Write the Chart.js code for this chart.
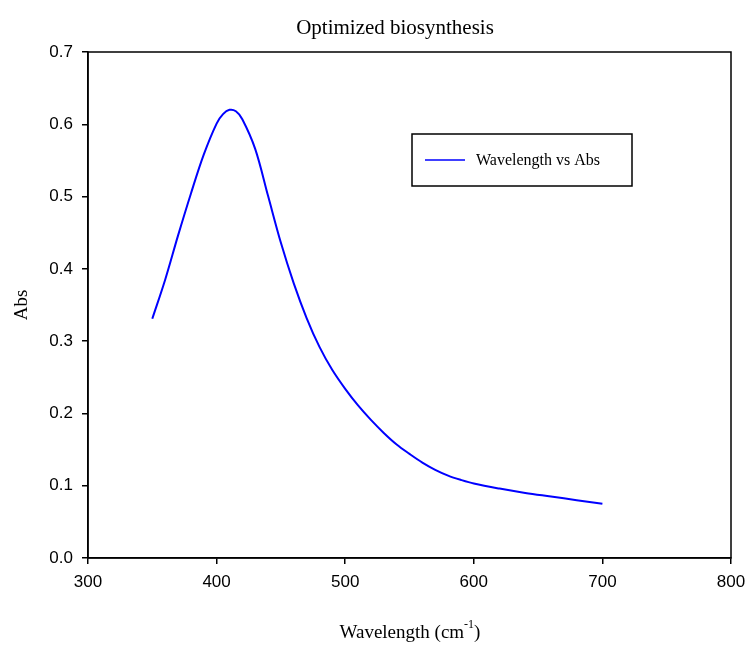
<!DOCTYPE html>
<html>
<head>
<meta charset="utf-8">
<script src="https://cdn.jsdelivr.net/npm/chart.js@4.4.1/dist/chart.umd.min.js"></script>
<style>
    html, body { margin: 0; padding: 0; background: #fff; }
    #wrap { width: 748px; height: 646px; }
</style>
</head>
<body>
<div id="wrap"><canvas id="absChart" width="748" height="646"></canvas></div>
<script>
// Données
const wavelengths = [350, 360, 370, 380, 390, 400, 405, 410, 415, 420, 430, 440, 450, 460, 470, 480, 490, 500, 510, 520, 530, 540, 550, 560, 570, 580, 590, 600, 620, 640, 660, 680, 700];
const absValues = [0.331, 0.385, 0.446, 0.504, 0.558, 0.601, 0.614, 0.620, 0.618, 0.607, 0.566, 0.501, 0.436, 0.380, 0.332, 0.292, 0.260, 0.234, 0.211, 0.191, 0.173, 0.157, 0.144, 0.132, 0.122, 0.114, 0.108, 0.103, 0.096, 0.090, 0.085, 0.080, 0.075];
const xTicks = [300, 400, 500, 600, 700, 800];
const yTicks = [0.0, 0.1, 0.2, 0.3, 0.4, 0.5, 0.6, 0.7];

const serif = '"Liberation Serif", "Times New Roman", serif';
const narrow = '"Liberation Sans Narrow", "Liberation Sans", Arial, sans-serif';

// Cadre, titres et légende dessinés à la main
const decorPlugin = {
    id: 'decor',
    afterDraw(chart) {
        const ctx = chart.ctx;
        const a = chart.chartArea;
        ctx.save();
        ctx.strokeStyle = '#000';
        ctx.lineWidth = 1.5;
        ctx.strokeRect(a.left, a.top, a.right - a.left, a.bottom - a.top);

        ctx.fillStyle = '#000';
        ctx.textBaseline = 'alphabetic';
        ctx.textAlign = 'center';
        ctx.font = '21px ' + serif;
        ctx.fillText('Optimized biosynthesis', 395, 34);

        // Titre axe Y
        ctx.save();
        ctx.translate(27, 305);
        ctx.rotate(-Math.PI / 2);
        ctx.font = '19px ' + serif;
        ctx.fillText('Abs', 0, 0);
        ctx.restore();

        // Titre axe X avec exposant
        const t1 = 'Wavelength (cm';
        const sup = '-1';
        const t2 = ')';
        ctx.font = '19px ' + serif;
        const w1 = ctx.measureText(t1).width;
        const w3 = ctx.measureText(t2).width;
        ctx.font = '12px ' + serif;
        const w2 = ctx.measureText(sup).width;
        let x = 410 - (w1 + w2 + w3) / 2;
        ctx.textAlign = 'left';
        ctx.font = '19px ' + serif;
        ctx.fillText(t1, x, 638);
        ctx.font = '12px ' + serif;
        ctx.fillText(sup, x + w1, 628);
        ctx.font = '19px ' + serif;
        ctx.fillText(t2, x + w1 + w2, 638);

        // Légende
        ctx.lineWidth = 1.5;
        ctx.strokeRect(412, 134, 220, 52);
        ctx.strokeStyle = '#0000ff';
        ctx.beginPath();
        ctx.moveTo(425, 160);
        ctx.lineTo(465, 160);
        ctx.stroke();
        ctx.font = '16px ' + serif;
        ctx.textBaseline = 'middle';
        ctx.fillText('Wavelength vs Abs', 476, 161);
        ctx.restore();
    }
};

const absCtx = document.getElementById('absChart').getContext('2d');
const absChart = new Chart(absCtx, {
    type: 'line',
    data: {
        datasets: [{
            label: 'Wavelength vs Abs',
            data: wavelengths.map((w, i) => ({ x: w, y: absValues[i] })),
            borderColor: '#0000ff',
            borderWidth: 2,
            pointRadius: 0,
            tension: 0.35,
            fill: false
        }]
    },
    options: {
        responsive: false,
        animation: false,
        layout: { padding: { top: 52, right: 17, left: 0, bottom: 0 } },
        plugins: {
            legend: { display: false },
            title: { display: false },
            tooltip: { enabled: false }
        },
        scales: {
            x: {
                type: 'linear',
                min: 300,
                max: 800,
                afterBuildTicks: s => { s.ticks = xTicks.map(v => ({ value: v })); },
                afterFit: s => { s.height = 88; s.paddingLeft = 0; s.paddingRight = 0; },
                grid: { drawOnChartArea: false, tickLength: 6, color: '#000', lineWidth: 1.5 },
                border: { display: true, color: '#000', width: 1.5 },
                ticks: {
                    color: '#000',
                    padding: 8,
                    maxRotation: 0,
                    font: { family: narrow, size: 17 },
                    callback: v => String(v)
                }
            },
            y: {
                min: 0,
                max: 0.7,
                afterBuildTicks: s => { s.ticks = yTicks.map(v => ({ value: v })); },
                afterFit: s => { s.width = 88; s.paddingTop = 0; s.paddingBottom = 0; },
                grid: { drawOnChartArea: false, tickLength: 6, color: '#000', lineWidth: 1.5 },
                border: { display: true, color: '#000', width: 1.5 },
                ticks: {
                    color: '#000',
                    padding: 9,
                    font: { family: narrow, size: 17 },
                    callback: v => Number(v).toFixed(1)
                }
            }
        }
    },
    plugins: [decorPlugin]
});
</script>
</body>
</html>
